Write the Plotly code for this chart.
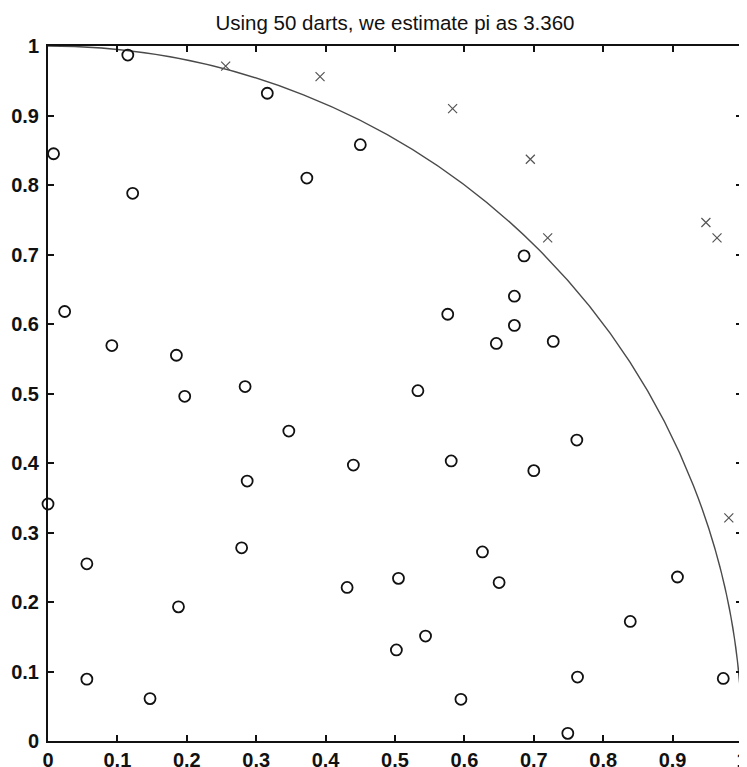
import plotly.graph_objects as go

# Darts that landed inside the quarter circle
inside_x = [0.115, 0.316, 0.008, 0.450, 0.373, 0.122, 0.024, 0.092, 0.185, 0.284, 0.197,
            0.347, 0.440, 0.287, 0.000, 0.056, 0.279, 0.431, 0.188, 0.056, 0.147,
            0.686, 0.672, 0.576, 0.672, 0.646, 0.728, 0.533,
            0.762, 0.581, 0.700, 0.626, 0.505, 0.650, 0.907, 0.839, 0.544, 0.502,
            0.763, 0.973, 0.595, 0.749]
inside_y = [0.987, 0.932, 0.845, 0.858, 0.810, 0.788, 0.618, 0.569, 0.555, 0.510, 0.496,
            0.446, 0.397, 0.374, 0.341, 0.255, 0.278, 0.221, 0.193, 0.089, 0.061,
            0.698, 0.640, 0.614, 0.598, 0.572, 0.575, 0.504,
            0.433, 0.403, 0.389, 0.272, 0.234, 0.228, 0.236, 0.172, 0.151, 0.131,
            0.092, 0.090, 0.060, 0.011]

# Darts that landed outside
outside_x = [0.256, 0.392, 0.583, 0.695, 0.720, 0.948, 0.964, 0.981]
outside_y = [0.971, 0.956, 0.910, 0.837, 0.724, 0.746, 0.724, 0.321]

tick_vals = [0, 0.1, 0.2, 0.3, 0.4, 0.5, 0.6, 0.7, 0.8, 0.9, 1]
tick_text = ["0", "0.1", "0.2", "0.3", "0.4", "0.5", "0.6", "0.7", "0.8", "0.9", "1"]

n_darts = len(inside_x) + len(outside_x)
pi_est = 4 * len(inside_x) / n_darts

fig = go.Figure()
fig.add_trace(go.Scatter(
    x=inside_x, y=inside_y, mode="markers",
    marker=dict(symbol="circle-open", size=11, color="#111111", line=dict(width=1.8)),
    showlegend=False, cliponaxis=False))
fig.add_trace(go.Scatter(
    x=outside_x, y=outside_y, mode="markers",
    marker=dict(symbol="x-thin-open", size=9, color="#555555", line=dict(width=1.2)),
    showlegend=False, cliponaxis=False))

# quarter of the unit circle, drawn through the data axes
fig.add_shape(type="circle", xref="x", yref="y", x0=-1, y0=-1, x1=1, y1=1,
              line=dict(color="#4a4a4a", width=1.4), layer="below")

axis_common = dict(
    range=[0, 1], tickvals=tick_vals, ticktext=tick_text,
    ticks="inside", ticklen=6, tickwidth=1.5, tickcolor="#111111",
    showline=True, linecolor="#111111", linewidth=2, mirror="ticks",
    showgrid=False, zeroline=False, automargin=False,
    ticklabeloverflow="allow",
    tickfont=dict(family="Liberation Sans, Arial", size=20, color="#111111", weight="bold"),
)

fig.update_layout(
    width=747, height=767,
    margin=dict(l=40, r=13, t=38, b=34),
    paper_bgcolor="white", plot_bgcolor="white",
    title=dict(text=f"Using {n_darts} darts, we estimate pi as {pi_est:.3f}",
               x=0.5, xanchor="center", xref="paper", y=1 - 15 / 767, yref="container",
               yanchor="middle",
               font=dict(family="Liberation Sans, Arial", size=20.5, color="#111111")),
    xaxis=axis_common,
    yaxis=dict(axis_common, ticklabelstandoff=3),
)

fig.write_html("out.html")
